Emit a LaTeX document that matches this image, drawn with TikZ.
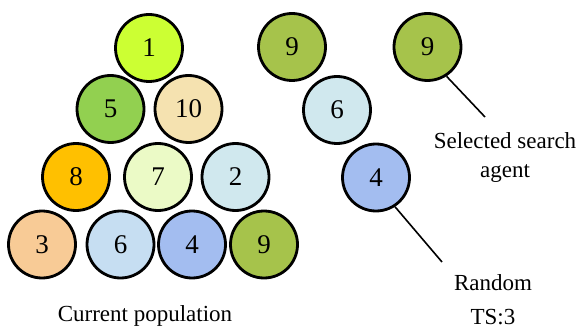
\documentclass[tikz,border=0pt]{standalone}
\usepackage{fontspec}
\setmainfont{Liberation Serif}
\begin{document}
\begin{tikzpicture}[x=1pt,y=-1pt,
  ball/.style={circle,draw=black,line width=2.8pt,minimum size=67pt,inner sep=0pt,font=\fontsize{27}{29}\selectfont},
  lbl/.style={font=\fontsize{23}{29}\selectfont,align=center},
  lead/.style={line width=1.6pt}]
\useasboundingbox (0,0) rectangle (580,331);
\definecolor{cA}{HTML}{CCFF33}
\definecolor{cB}{HTML}{92D050}
\definecolor{cC}{HTML}{F5E2B0}
\definecolor{cD}{HTML}{FFC000}
\definecolor{cE}{HTML}{EBFAC6}
\definecolor{cF}{HTML}{D0E8EE}
\definecolor{cG}{HTML}{F8CB96}
\definecolor{cH}{HTML}{C6DEF2}
\definecolor{cI}{HTML}{A3BDF0}
\definecolor{cJ}{HTML}{A6C34B}
\node[ball,fill=cA] (n1) at (149,48) {1};
\node[ball,fill=cB] (n5) at (110.5,109) {5};
\node[ball,fill=cC] (n10) at (188.5,109) {10};
\node[ball,fill=cD] (n8) at (76,177) {8};
\node[ball,fill=cE] (n7) at (158,177) {7};
\node[ball,fill=cF] (n2) at (235.5,177) {2};
\node[ball,fill=cG] (n3) at (42,244.5) {3};
\node[ball,fill=cH] (n6) at (120.5,244.5) {6};
\node[ball,fill=cI] (n4) at (192,244.5) {4};
\node[ball,fill=cJ] (n9) at (264,244.5) {9};
\node[ball,fill=cJ] (t9) at (292,47) {9};
\node[ball,fill=cF] (t6) at (337,110) {6};
\node[ball,fill=cI] (t4) at (376,177.5) {4};
\node[ball,fill=cJ] (s9) at (427.5,47) {9};
\node[lbl] (cur) at (145,316) {Current population};
\node[lbl] (sel) at (505,157.5) {Selected search\\agent};
\node[lbl] (rnd) at (493,283) {Random};
\node[lbl] (ts) at (493,317) {TS:3};
\coordinate (se) at (485,117);
\coordinate (re) at (442,262);
\draw[lead] (s9.-57) -- (se);
\draw[lead] (t4.-57) -- (re);
\end{tikzpicture}
\end{document}
